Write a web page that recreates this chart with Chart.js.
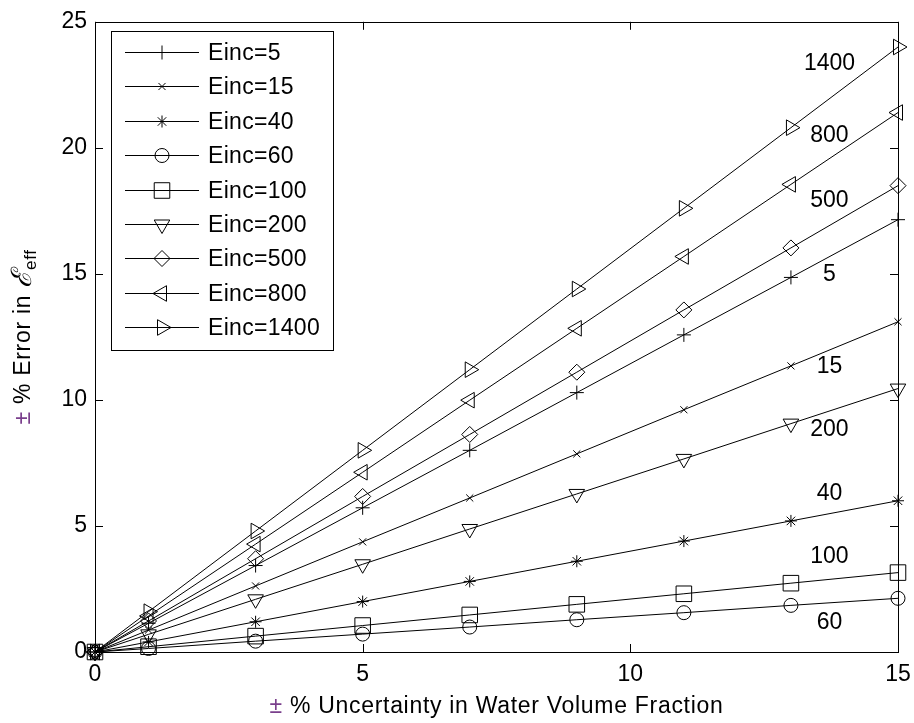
<!DOCTYPE html>
<html lang="en">
    <head>
        <meta charset="UTF-8" />
        <title>Error in effective permittivity</title>
        <script src="https://cdn.jsdelivr.net/npm/chart.js"></script>
        <style>
            body,
            html {
                margin: 0;
                background: #fff;
            }
            .chart-container {
                width: 914px;
                height: 723px;
            }
        </style>
    </head>
    <body>
        <div class="chart-container">
            <canvas id="errorChart"></canvas>
        </div>
        <script>
            // x positions of the markers (% uncertainty in water fraction)
            const uncertainty = [0, 1, 3, 5, 7, 9, 11, 13, 15];

            // % error in eps_eff for each Einc
            const einc5 = [0, 1.14, 3.43, 5.72, 8.0, 10.29, 12.58, 14.86, 17.15];
            const einc15 = [0, 0.87, 2.62, 4.37, 6.11, 7.86, 9.61, 11.35, 13.1];
            const einc40 = [0, 0.4, 1.2, 2.0, 2.8, 3.6, 4.4, 5.2, 6.0];
            const einc60 = [0, 0.14, 0.43, 0.71, 0.99, 1.28, 1.56, 1.85, 2.13];
            const einc100 = [0, 0.21, 0.63, 1.05, 1.47, 1.89, 2.31, 2.73, 3.15];
            const einc200 = [0, 0.7, 2.09, 3.48, 4.88, 6.27, 7.66, 9.06, 10.45];
            const einc500 = [0, 1.23, 3.7, 6.17, 8.63, 11.1, 13.57, 16.03, 18.5];
            const einc800 = [0, 1.43, 4.28, 7.13, 9.99, 12.84, 15.69, 18.55, 21.4];
            const einc1400 = [0, 1.6, 4.8, 8.0, 11.2, 14.4, 17.6, 20.8, 24.0];

            const seriesNames = ["Einc=5", "Einc=15", "Einc=40", "Einc=60", "Einc=100", "Einc=200", "Einc=500", "Einc=800", "Einc=1400"];
            const seriesValues = [einc5, einc15, einc40, einc60, einc100, einc200, einc500, einc800, einc1400];

            // text labels next to the lines, in data units
            const lineLabels = ["1400", "800", "500", "5", "15", "200", "40", "100", "60"];
            const lineLabelX = 13.72;
            const lineLabelY = [23.34, 20.47, 17.9, 14.98, 11.3, 8.83, 6.3, 3.78, 1.18];

            const xTicks = [0, 5, 10, 15];
            const yTicks = [0, 5, 10, 15, 20, 25];

            const FONT = "'Liberation Sans', Arial, sans-serif";
            const PM_COLOR = "#7a3f8c";

            const markers = [
                { style: "cross", radius: 7, rotation: 0 },
                { style: "crossRot", radius: 5, rotation: 0 },
                { style: "star", radius: 6, rotation: 0 },
                { style: "circle", radius: 7, rotation: 0 },
                { style: "rect", radius: 11, rotation: 0 },
                { style: "triangle", radius: 9, rotation: 180 },
                { style: "rectRot", radius: 8, rotation: 0 },
                { style: "triangle", radius: 9, rotation: 270 },
                { style: "triangle", radius: 9, rotation: 90 },
            ];

            const datasets = seriesNames.map((name, i) => ({
                label: name,
                data: uncertainty.map((x, j) => ({ x: x, y: seriesValues[i][j] })),
                borderColor: "#000",
                borderWidth: 1,
                backgroundColor: "rgba(0,0,0,0)",
                pointStyle: markers[i].style,
                pointRadius: markers[i].radius,
                pointRotation: markers[i].rotation,
                pointBorderColor: "#000",
                pointBorderWidth: 1,
                pointBackgroundColor: "rgba(0,0,0,0)",
                clip: false,
                tension: 0,
            }));

            // box, inward ticks, line labels, axis titles and legend
            const matlabLook = {
                id: "matlabLook",
                afterDatasetsDraw(chart) {
                    const ctx = chart.ctx;
                    const a = chart.chartArea;
                    const xs = chart.scales.x;
                    const ys = chart.scales.y;
                    ctx.save();
                    ctx.strokeStyle = "#000";
                    ctx.lineWidth = 1;
                    ctx.strokeRect(Math.round(a.left) + 0.5, Math.round(a.top) + 0.5, Math.round(a.right - a.left), Math.round(a.bottom - a.top));
                    ctx.beginPath();
                    xTicks.forEach((v) => {
                        const px = Math.round(xs.getPixelForValue(v)) + 0.5;
                        ctx.moveTo(px, a.bottom);
                        ctx.lineTo(px, a.bottom - 8);
                        ctx.moveTo(px, a.top);
                        ctx.lineTo(px, a.top + 8);
                    });
                    yTicks.forEach((v) => {
                        const py = Math.round(ys.getPixelForValue(v)) + 0.5;
                        ctx.moveTo(a.left, py);
                        ctx.lineTo(a.left + 8, py);
                        ctx.moveTo(a.right, py);
                        ctx.lineTo(a.right - 8, py);
                    });
                    ctx.stroke();

                    // labels beside the lines
                    ctx.fillStyle = "#000";
                    ctx.font = "23px " + FONT;
                    ctx.textAlign = "center";
                    ctx.textBaseline = "middle";
                    lineLabels.forEach((t, i) => {
                        ctx.fillText(t, xs.getPixelForValue(lineLabelX), ys.getPixelForValue(lineLabelY[i]));
                    });

                    // x axis title
                    ctx.letterSpacing = "0.7px";
                    const xt = " % Uncertainty in Water Volume Fraction";
                    ctx.textAlign = "left";
                    const pmW = ctx.measureText("\u00b1").width;
                    const totalW = pmW + ctx.measureText(xt).width;
                    const cx = (a.left + a.right) / 2;
                    const sx = cx - totalW / 2;
                    ctx.fillStyle = PM_COLOR;
                    ctx.fillText("\u00b1", sx, 707);
                    ctx.fillStyle = "#000";
                    ctx.fillText(xt, sx + pmW, 707);

                    // y axis title (rotated)
                    ctx.save();
                    ctx.translate(24, (a.top + a.bottom) / 2);
                    ctx.rotate(-Math.PI / 2);
                    const parts = [
                        { t: "\u00b1", f: "23px " + FONT, c: PM_COLOR, dy: 0 },
                        { t: " % Error in ", f: "23px " + FONT, c: "#000", dy: 0 },
                        { t: "\u2130", f: "italic 28px 'DejaVu Serif', serif", c: "#000", dy: 0 },
                        { t: "eff", f: "17px " + FONT, c: "#000", dy: 7 },
                    ];
                    let w = 0;
                    parts.forEach((p) => {
                        ctx.font = p.f;
                        p.w = ctx.measureText(p.t).width;
                        w += p.w;
                    });
                    let px = -w / 2;
                    parts.forEach((p) => {
                        ctx.font = p.f;
                        ctx.fillStyle = p.c;
                        ctx.fillText(p.t, px, p.dy);
                        px += p.w;
                    });
                    ctx.restore();

                    // legend box
                    ctx.letterSpacing = "0.3px";
                    const lx = 111, ly = 31, lw = 222, lh = 319;
                    ctx.fillStyle = "#fff";
                    ctx.fillRect(lx, ly, lw, lh);
                    ctx.strokeStyle = "#000";
                    ctx.strokeRect(lx + 0.5, ly + 0.5, lw, lh);
                    ctx.font = "23px " + FONT;
                    ctx.textAlign = "left";
                    chart.data.datasets.forEach((ds, i) => {
                        const ry = Math.round(52 + i * 34.4) + 0.5;
                        ctx.beginPath();
                        ctx.moveTo(125, ry);
                        ctx.lineTo(199, ry);
                        ctx.stroke();
                        ctx.fillStyle = "rgba(0,0,0,0)";
                        Chart.helpers.drawPoint(ctx, {
                            pointStyle: ds.pointStyle,
                            rotation: ds.pointRotation,
                            radius: ds.pointRadius,
                            borderWidth: 1,
                        }, 162, ry);
                        ctx.fillStyle = "#000";
                        ctx.fillText(ds.label, 208, ry + 1);
                    });
                    ctx.restore();
                },
            };

            const ctxChart = document.getElementById("errorChart").getContext("2d");
            new Chart(ctxChart, {
                type: "line",
                data: { datasets: datasets },
                plugins: [matlabLook],
                options: {
                    responsive: true,
                    maintainAspectRatio: false,
                    animation: false,
                    layout: { padding: { top: 18, right: 16, left: 0, bottom: 0 } },
                    plugins: {
                        legend: { display: false },
                        tooltip: { enabled: false },
                    },
                    scales: {
                        x: {
                            type: "linear",
                            min: 0,
                            max: 15,
                            afterFit: (s) => {
                                s.height = 71;
                                s.paddingRight = 0;
                            },
                            afterBuildTicks: (s) => { s.ticks = xTicks.map((v) => ({ value: v })); },
                            grid: { display: false, drawTicks: false },
                            border: { display: false },
                            ticks: { color: "#000", padding: 9, font: { family: FONT, size: 23 } },
                        },
                        y: {
                            type: "linear",
                            min: 0,
                            max: 25,
                            afterFit: (s) => { s.width = 95; },
                            afterBuildTicks: (s) => { s.ticks = yTicks.map((v) => ({ value: v })); },
                            grid: { display: false, drawTicks: false },
                            border: { display: false },
                            ticks: { color: "#000", padding: 8, font: { family: FONT, size: 23 } },
                        },
                    },
                },
            });
        </script>
    </body>
</html>
